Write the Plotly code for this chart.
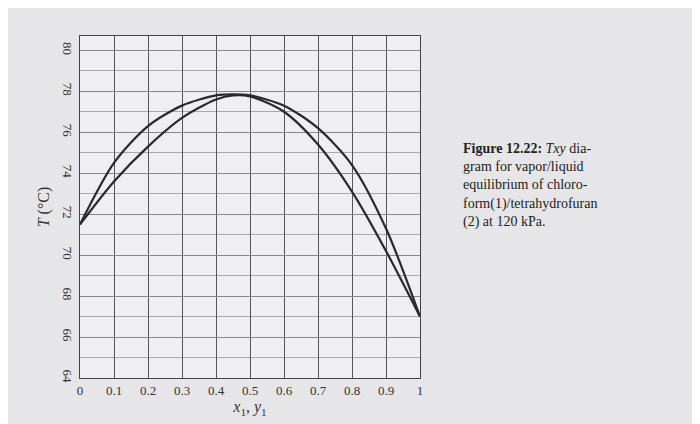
import plotly.graph_objects as go

# Txy data
comp = [0, 0.1, 0.2, 0.3, 0.4, 0.45, 0.5, 0.6, 0.7, 0.8, 0.9, 1.0]
t_bubble = [71.5, 73.6, 75.3, 76.7, 77.6, 77.8, 77.75, 77.0, 75.4, 73.1, 70.2, 67.0]
t_dew = [71.5, 74.5, 76.3, 77.3, 77.8, 77.85, 77.8, 77.3, 76.2, 74.4, 71.3, 67.0]

fig = go.Figure()
fig.add_trace(go.Scatter(x=comp, y=t_bubble, mode='lines', line=dict(color='#2a2a2a', width=2.2, shape='spline', smoothing=0.8)))
fig.add_trace(go.Scatter(x=comp, y=t_dew, mode='lines', line=dict(color='#2a2a2a', width=2.2, shape='spline', smoothing=0.8)))

fig.update_layout(
    width=700, height=424, showlegend=False,
    paper_bgcolor='#e6e6e8', plot_bgcolor='#efeff1',
    margin=dict(l=72, r=288, t=28, b=54),
    font=dict(family='Liberation Serif', size=13, color='#333'),
    xaxis=dict(range=[0, 1], tickvals=[0, 0.1, 0.2, 0.3, 0.4, 0.5, 0.6, 0.7, 0.8, 0.9, 1],
               ticktext=['0', '0.1', '0.2', '0.3', '0.4', '0.5', '0.6', '0.7', '0.8', '0.9', '1'],
               showgrid=True, gridcolor='#555', gridwidth=1, showline=True, linecolor='#444', mirror=True,
               zeroline=False, title=dict(text='<i>x</i><sub>1</sub>, <i>y</i><sub>1</sub>', standoff=4)),
    yaxis=dict(range=[64, 80.7], tickvals=[64, 66, 68, 70, 72, 74, 76, 78, 80], tickangle=90,
               showgrid=True, gridcolor='#888', gridwidth=1, showline=True, linecolor='#444', mirror=True,
               zeroline=False, minor=dict(dtick=1, showgrid=True, gridcolor='#aaa'),
               title=dict(text='<i>T</i> (°C)', standoff=6)),
    annotations=[dict(xref='paper', yref='paper', x=1.12, y=0.7, xanchor='left', yanchor='top',
                      align='left', showarrow=False, font=dict(size=14, color='#222'),
                      text='<b>Figure 12.22:</b> <i>Txy</i> dia-<br>gram for vapor/liquid<br>equilibrium of chloro-<br>'
                           'form(1)/tetrahydrofuran<br>(2) at 120 kPa.')]
)

fig.write_html("out.html")
